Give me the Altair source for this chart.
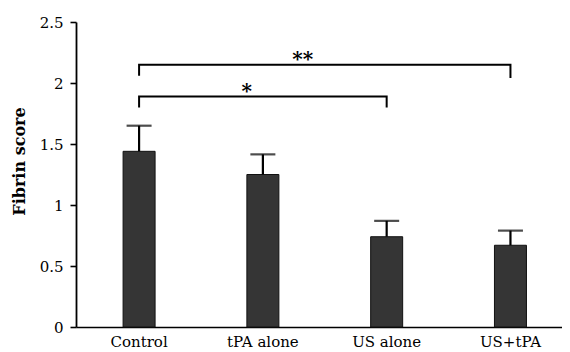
import altair as alt
import pandas as pd

groups = ["Control", "tPA alone", "US alone", "US+tPA"]
means = [1.44, 1.25, 0.74, 0.67]
err_top = [1.65, 1.415, 0.87, 0.79]

# significance brackets: path points (group, y, order, bracket id)
br_id = ["a", "a", "a", "a", "b", "b", "b", "b"]
br_x = ["Control", "Control", "US alone", "US alone",
        "Control", "Control", "US+tPA", "US+tPA"]
br_y = [1.80, 1.89, 1.89, 1.80, 2.06, 2.15, 2.15, 2.04]
br_ord = [0, 1, 2, 3, 0, 1, 2, 3]

star_x = ["tPA alone", "tPA alone"]
star_y = [1.93, 2.19]
star_txt = ["*", "**"]
star_dx = [0, 56]

FONT = "DejaVu Serif"

bars_df = pd.DataFrame({"g": groups, "m": means, "e": err_top})
br_df = pd.DataFrame({"id": br_id, "g": br_x, "y": br_y, "o": br_ord})
star_df = pd.DataFrame({"g": star_x, "y": star_y, "t": star_txt, "dx": star_dx})

xscale = alt.Scale(domain=groups, paddingInner=0.74, paddingOuter=0.333, align=0.57)
yscale = alt.Scale(domain=[0, 2.5])

xenc = alt.X("g:N", scale=xscale, sort=groups,
             axis=alt.Axis(title=None, labelAngle=0, ticks=False, labelFont=FONT,
                           labelFontSize=15, labelColor="#000", labelPadding=7,
                           domainColor="#000", domainWidth=1.6, grid=False))
yenc = alt.Y("m:Q", scale=yscale,
             axis=alt.Axis(title="Fibrin score", values=[0, 0.5, 1, 1.5, 2, 2.5],
                           format="~g",
                           titleFont=FONT, titleFontSize=16, titleFontWeight="bold",
                           titleColor="#000", titleX=-57, titleY=139, titleAngle=270,
                           titleAlign="center", titleBaseline="middle",
                           labelFont=FONT, labelFontSize=15, labelColor="#000",
                           labelPadding=7, tickSize=6, tickColor="#000", tickWidth=1.6,
                           domainColor="#000", domainWidth=1.8, grid=False))

bars = alt.Chart(bars_df).mark_bar(size=32, color="#353535", stroke="#111",
                                   strokeWidth=1).encode(x=xenc, y=yenc)

err = alt.Chart(bars_df).mark_rule(color="#000", strokeWidth=2.2).encode(
    x=alt.X("g:N", scale=xscale, sort=groups),
    y=alt.Y("m:Q", scale=yscale), y2="e:Q")

cap = alt.Chart(bars_df).mark_tick(color="#000", thickness=2.2, size=25).encode(
    x=alt.X("g:N", scale=xscale, sort=groups),
    y=alt.Y("e:Q", scale=yscale))

brackets = alt.Chart(br_df).mark_line(color="#000", strokeWidth=2).encode(
    x=alt.X("g:N", scale=xscale, sort=groups),
    y=alt.Y("y:Q", scale=yscale),
    detail="id:N", order="o:Q")

stars = alt.Chart(star_df).mark_text(font=FONT, fontSize=20, fontWeight="bold",
                                     color="#000", baseline="middle").encode(
    x=alt.X("g:N", scale=xscale, sort=groups),
    y=alt.Y("y:Q", scale=yscale),
    text="t:N", xOffset=alt.XOffset("dx:Q", scale=None))

chart = alt.layer(bars, err, cap, brackets, stars).properties(
    width=486, height=305,
    background="white",
    autosize=alt.AutoSizeParams(type="none"),
    padding={"left": 68, "top": 14, "right": 0, "bottom": 28},
).configure_view(strokeWidth=0, stroke="transparent")

chart.save("out.html", embed_options={"renderer": "svg", "actions": False})
